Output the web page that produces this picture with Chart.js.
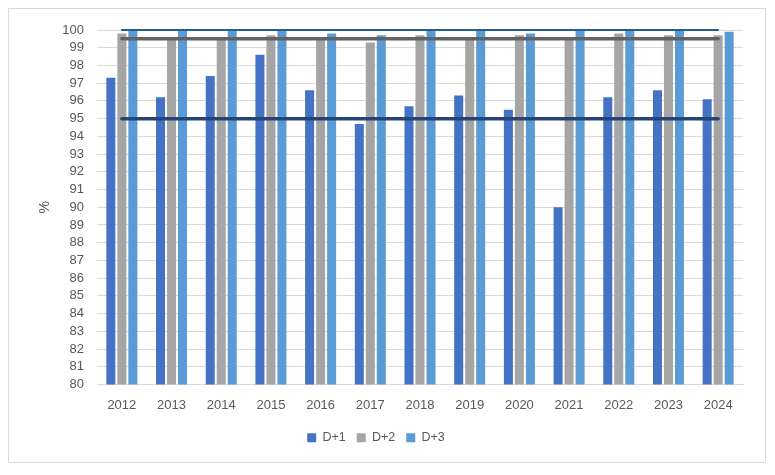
<!DOCTYPE html>
<html>
<head>
<meta charset="utf-8">
<script src="https://cdn.jsdelivr.net/npm/chart.js@4"></script>
<style>
  body { margin: 0; background: #fff; }
  #wrap { position: absolute; left: 8px; top: 8px; width: 756px; height: 453px; border: 1px solid #d9d9d9; }
</style>
</head>
<body>
<div id="wrap"><canvas id="chart"></canvas></div>
<script>
// data
const years = ["2012", "2013", "2014", "2015", "2016", "2017", "2018", "2019", "2020", "2021", "2022", "2023", "2024"];
const d1 = [97.3, 96.2, 97.4, 98.6, 96.6, 94.7, 95.7, 96.3, 95.5, 90.0, 96.2, 96.6, 96.1];
const d2 = [99.8, 99.5, 99.5, 99.7, 99.5, 99.3, 99.7, 99.5, 99.7, 99.5, 99.8, 99.7, 99.7];
const d3 = [100, 100, 100, 100, 99.8, 99.7, 100, 100, 99.8, 100, 100, 100, 99.9];
const target1 = 95;
const target2 = 99.5;
const target3 = 100;
const yTicks = { min: 80, max: 100, step: 1 };

const font = "'Liberation Sans', Arial, sans-serif";
const textColor = "#595959";

function flat(v) {
  return years.map(() => v);
}

function bar(label, data, color) {
  return { type: "bar", label: label, data: data, backgroundColor: color, order: 1,
           categoryPercentage: 0.664, barPercentage: 0.82 };
}

function line(value, color, width) {
  return { type: "line", label: "t" + value, data: flat(value), borderColor: color,
           borderWidth: width, pointRadius: 0, borderCapStyle: "round", clip: false, order: 0 };
}

new Chart(document.getElementById("chart"), {
  data: {
    labels: years,
    datasets: [
      bar("D+1", d1, "#4472C4"),
      bar("D+2", d2, "#A5A5A5"),
      bar("D+3", d3, "#5B9BD5"),
      line(target1, "#264478", 3.5),
      line(target2, "#636363", 3.5),
      line(target3, "#255E91", 2)
    ]
  },
  options: {
    responsive: true,
    maintainAspectRatio: false,
    animation: false,
    layout: { padding: { top: 21, right: 22, bottom: 8, left: 0 } },
    plugins: {
      tooltip: { enabled: false },
      legend: {
        position: "bottom",
        labels: {
          filter: item => item.text.startsWith("D+"),
          boxWidth: 9, boxHeight: 9, padding: 11,
          color: textColor, font: { family: font, size: 12.5 }
        }
      }
    },
    scales: {
      x: {
        grid: { display: false },
        border: { color: "#d9d9d9" },
        ticks: { color: textColor, padding: 5, font: { family: font, size: 13 } },
        afterFit: s => { s.height = 36; }
      },
      y: {
        min: yTicks.min,
        max: yTicks.max,
        border: { display: false },
        grid: { color: "#d9d9d9", drawTicks: false },
        ticks: { stepSize: yTicks.step, autoSkip: false, color: textColor, padding: 13,
                 font: { family: font, size: 13 } },
        title: { display: true, text: "%", color: textColor, font: { family: font, size: 14 },
                 padding: { top: 28, bottom: 0 } },
        afterFit: s => { s.width = 88; }
      }
    }
  }
});
</script>
</body>
</html>
